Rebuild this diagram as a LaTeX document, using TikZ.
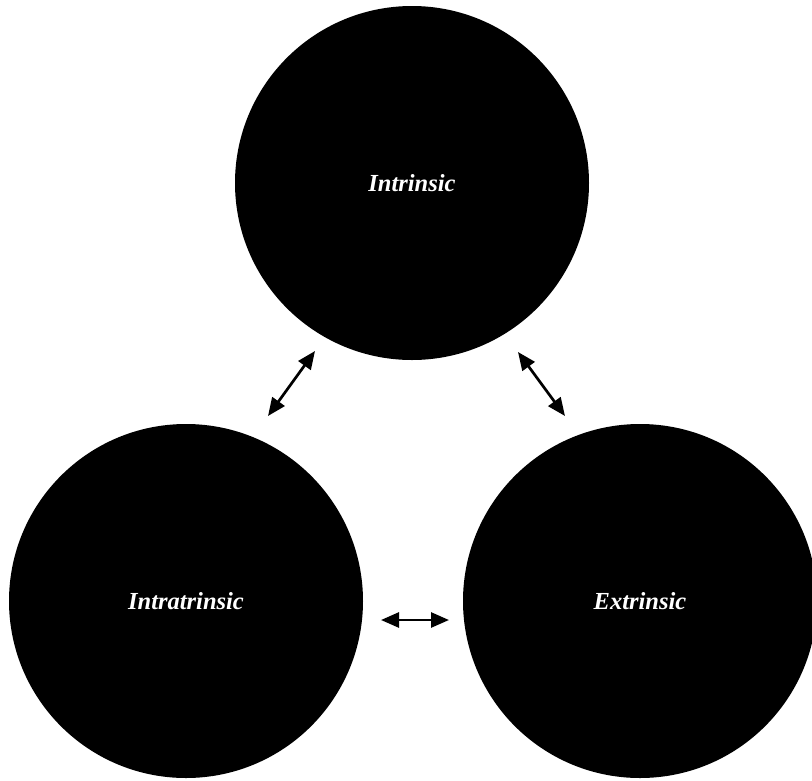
\documentclass[tikz,border=0pt]{standalone}
\usepackage{fontspec}
\setmainfont{Liberation Serif}
\usetikzlibrary{arrows.meta}
\begin{document}
\begin{tikzpicture}[x=1pt,y=-1pt,
  blob/.style={circle,fill=black,minimum size=354pt,inner sep=0pt,text=white,font=\fontsize{24.5}{28}\selectfont\bfseries\itshape},
  link/.style={line width=2.7pt,{Triangle[length=18pt,width=15pt]}-{Triangle[length=18pt,width=15pt]}}]
\useasboundingbox (0,0) rectangle (812,780);
\node[blob] (intr) at (412,183) {Intrinsic};
\node[blob] (intra) at (186,601) {Intratrinsic};
\node[blob] (extr) at (640,601) {Extrinsic};
\coordinate (a1) at (315,351);
\coordinate (a2) at (268,416);
\coordinate (b1) at (518,352);
\coordinate (b2) at (565,416);
\coordinate (c1) at (381,620);
\coordinate (c2) at (449,620);
\draw[link] (a1) -- (a2);
\draw[link] (b1) -- (b2);
\draw[link] (c1) -- (c2);
\end{tikzpicture}
\end{document}
